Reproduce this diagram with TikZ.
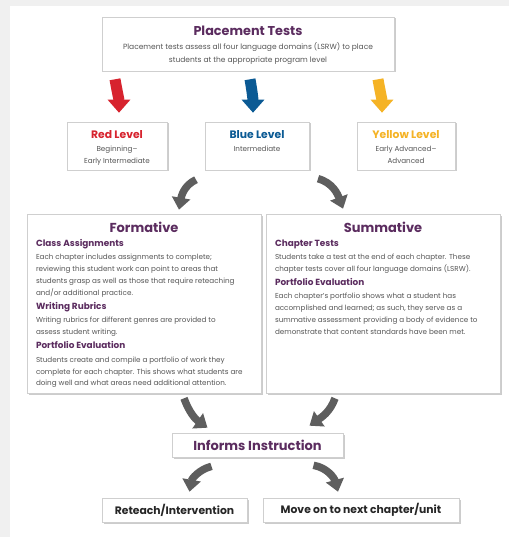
\documentclass[tikz,border=0pt]{standalone}
\usepackage{fontspec}
\setmainfont{Poppins}
\usetikzlibrary{arrows.meta, calc, shadows}

\definecolor{plum}{HTML}{5B2C5F}
\definecolor{redlevel}{HTML}{D7232E}
\definecolor{bluelevel}{HTML}{0B5A94}
\definecolor{yellowlevel}{HTML}{F5B325}
\definecolor{arrowgray}{HTML}{5E5E5E}
\definecolor{bodygray}{HTML}{555555}
\definecolor{boxline}{HTML}{CFCFCF}
\definecolor{pagegray}{HTML}{F0F0F0}

% running text and headings inside the boxes
\newcommand{\bodytext}{\fontsize{7.2}{11.9}\selectfont}
\newcommand{\heading}[1]{{\fontsize{8.9}{14}\selectfont\bfseries\textcolor{plum}{#1}\par}\vspace{1.6pt}}
\newcommand{\leveltext}[4]{\parbox[c][48pt][t]{#1}{\centering\vspace*{8.6pt}%
  {\fontsize{10.8}{10.8}\selectfont\bfseries\textcolor{#2}{#3}\par}%
  {\fontsize{7.2}{12.6}\selectfont #4\par}}}

\begin{document}
\begin{tikzpicture}[x=1pt, y=1pt,
  box/.style={draw=boxline, line width=0.6pt, fill=white, inner sep=0pt, align=center, text=bodygray,
    drop shadow={shadow xshift=1.5pt, shadow yshift=-1.5pt, fill=black, opacity=0.2}},
  levelarrow/.style={draw=#1, line width=11pt, -{Triangle[width=22pt, length=13pt]}},
  flowarrow/.style={draw=arrowgray, line width=7.5pt, -{Triangle[width=18pt, length=12pt]}},
]
  % Page
  \fill[pagegray] (0,0) rectangle (509,-537);
  \fill[white] (10,-6) rectangle (509,-537);
  \useasboundingbox (0,0) rectangle (509,-537);

  % Placement tests
  \node[box] (place) at (248,-44) {\parbox[c][54pt][t]{292pt}{\centering\vspace*{9pt}%
    {\fontsize{12.8}{12.8}\selectfont\bfseries\textcolor{plum}{Placement Tests}\par}%
    {\fontsize{7.5}{13.6}\selectfont Placement tests assess all four language domains (LSRW) to place\\
    students at the appropriate program level\par}}};

  % Program levels
  \node[box, inner xsep=4pt] (red) at (117,-146) {\leveltext{92pt}{redlevel}{Red Level}{Beginning–\\Early Intermediate}};
  \node[box, inner xsep=4pt] (blue) at (257,-146) {\leveltext{96pt}{bluelevel}{Blue Level}{Intermediate}};
  \node[box, inner xsep=4pt] (yellow) at (406,-146) {\leveltext{90pt}{yellowlevel}{Yellow Level}{Early Advanced–\\Advanced}};

  % Formative and summative assessment
  \node[box, inner xsep=9pt] (form) at (144,-303.5) {\parbox[c][179pt][t]{216pt}{\raggedright\vspace*{7.6pt}%
    {\centering\fontsize{13}{13}\selectfont\bfseries\textcolor{plum}{Formative}\par}%
    \heading{Class Assignments}%
    {\bodytext Each chapter includes assignments to complete;\\
    reviewing this student work can point to areas that\\
    students grasp as well as those that require reteaching\\
    and/or additional practice.\par}%
    \heading{Writing Rubrics}%
    {\bodytext Writing rubrics for different genres are provided to\\
    assess student writing.\par}%
    \heading{Portfolio Evaluation}%
    {\bodytext Students create and compile a portfolio of work they\\
    complete for each chapter. This shows what students are\\
    doing well and what areas need additional attention.\par}}};
  \node[box, inner xsep=9pt] (summ) at (383,-303.5) {\parbox[c][179pt][t]{216pt}{\raggedright\vspace*{7.6pt}%
    {\centering\fontsize{13}{13}\selectfont\bfseries\textcolor{plum}{Summative}\par}%
    \heading{Chapter Tests}%
    {\bodytext Students take a test at the end of each chapter. These\\
    chapter tests cover all four language domains (LSRW).\par}%
    \heading{Portfolio Evaluation}%
    {\bodytext Each chapter’s portfolio shows what a student has\\
    accomplished and learned; as such, they serve as a\\
    summative assessment providing a body of evidence to\\
    demonstrate that content standards have been met.\par}}};

  % Outcome
  \node[box, minimum width=171pt, minimum height=24pt, font=\fontsize{13}{14}\selectfont\bfseries, text=plum] (informs) at (257.5,-445) {Informs Instruction};
  \node[box, minimum width=145pt, minimum height=24pt, font=\fontsize{10.8}{12}\selectfont\bfseries, text=black!85] (reteach) at (174.5,-510) {Reteach/Intervention};
  \node[box, minimum width=196pt, minimum height=24pt, font=\fontsize{10.8}{12}\selectfont\bfseries, text=black!85] (move) at (361,-510) {Move on to next chapter/unit};

  % Placement tests to the levels
  \draw[levelarrow=redlevel] ($(place.south -| red.north)+(-2,-8)$) to[out=-80, in=90] ($(red.north)+(2,9)$);
  \draw[levelarrow=bluelevel] ($(place.south -| blue.north)+(-7,-8)$) to[out=-80, in=90] ($(blue.north)+(-4,9)$);
  \draw[levelarrow=yellowlevel] ($(place.south -| yellow.north)+(-28,-8)$) to[out=-80, in=90] ($(yellow.north)+(-24,9)$);

  % Levels into formative and summative
  \draw[flowarrow] ($(form.north)+(52,34)$) to[out=205, in=80] ($(form.north)+(35,4)$);
  \draw[flowarrow] ($(summ.north)+(-65,35)$) to[out=-15, in=110] ($(summ.north)+(-40,5)$);

  % Both feed instruction
  \draw[flowarrow] ($(form.south)+(40,-5)$) to[out=-70, in=145] ($(informs.north)+(-50,5)$);
  \draw[flowarrow] ($(summ.south)+(-48,-5)$) to[out=-110, in=35] ($(informs.north)+(52,7)$);

  % Instruction to next steps
  \draw[flowarrow] ($(informs.south)+(-46,-9)$) to[out=195, in=80] ($(reteach.north)+(15,6)$);
  \draw[flowarrow] ($(informs.south)+(56,-8)$) to[out=-10, in=105] ($(move.north)+(-23,6)$);
\end{tikzpicture}
\end{document}
